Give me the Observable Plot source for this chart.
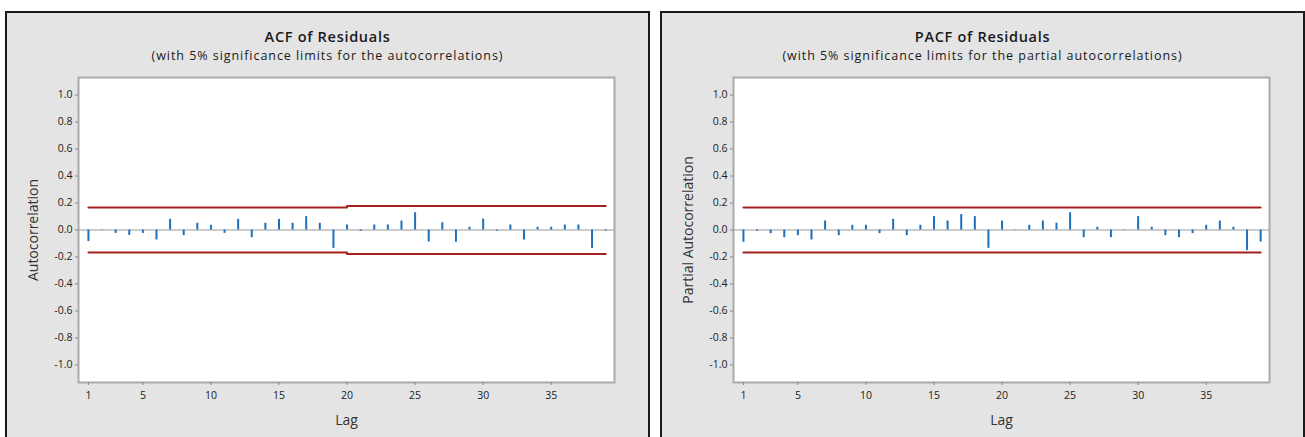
<!DOCTYPE html>
<html>
<head>
<meta charset="utf-8">
<script src="https://cdn.jsdelivr.net/npm/d3@7"></script>
<script src="https://cdn.jsdelivr.net/npm/@observablehq/plot@0.6"></script>
<style>
  html, body { margin: 0; padding: 0; background: #ffffff; }
  body { width: 1305px; height: 437px; position: relative; overflow: hidden; font-family: "Open Sans", sans-serif; }
  .panel { position: absolute; top: 11px; width: 641px; height: 430px; background: #e4e4e4;
           border-top: 2px solid #1a1a1a; border-left: 2px solid #1a1a1a; border-right: 2px solid #1a1a1a; }
  .title { position: absolute; left: 0; width: 100%; text-align: center; color: #1a1a1a; white-space: nowrap; }
  .t1 { top: 15.6px; font-size: 14.5px; font-weight: 600; line-height: 16px; height: 16px; letter-spacing: 0.7px; }
  .t2 { top: 36.4px; font-size: 12.5px; line-height: 13px; height: 13px; letter-spacing: 0.95px; }
  .chart { position: absolute; left: 0; top: 53px; }
</style>
</head>
<body>
<div class="panel" id="p1" style="left:5px;">
  <div class="title t1">ACF of Residuals</div>
  <div class="title t2">(with 5% significance limits for the autocorrelations)</div>
  <div class="chart" id="c1"></div>
</div>
<div class="panel" id="p2" style="left:660px;">
  <div class="title t1">PACF of Residuals</div>
  <div class="title t2">(with 5% significance limits for the partial autocorrelations)</div>
  <div class="chart" id="c2"></div>
</div>
<script>
const lags = [1,2,3,4,5,6,7,8,9,10,11,12,13,14,15,16,17,18,19,20,21,22,23,24,25,26,27,28,29,30,31,32,33,34,35,36,37,38,39];

const acf = [-0.086,-0.003,-0.025,-0.040,-0.025,-0.074,0.079,-0.042,0.050,0.035,
             -0.025,0.079,-0.057,0.050,0.079,0.050,0.099,0.050,-0.136,0.037,
             -0.010,0.037,0.037,0.067,0.128,-0.089,0.054,-0.091,0.020,0.081,
             -0.008,0.037,-0.074,0.020,0.020,0.037,0.037,-0.136,-0.008];

const pacf = [-0.091,-0.010,-0.027,-0.057,-0.042,-0.074,0.067,-0.042,0.035,0.035,
              -0.027,0.079,-0.042,0.035,0.099,0.067,0.114,0.099,-0.136,0.067,
              0.003,0.035,0.067,0.050,0.128,-0.057,0.020,-0.057,0.003,0.099,
              0.020,-0.042,-0.057,-0.027,0.035,0.067,0.020,-0.153,-0.089];

// 5% significance limits (upper; lower is the negative)
const acfLimit = [0.166,0.166,0.166,0.166,0.166,0.166,0.166,0.166,0.166,0.166,
                  0.166,0.166,0.166,0.166,0.166,0.166,0.166,0.166,0.166,0.177,
                  0.177,0.177,0.177,0.177,0.177,0.177,0.177,0.177,0.177,0.177,
                  0.177,0.177,0.177,0.177,0.177,0.177,0.177,0.177,0.177];
const pacfLimit = [0.166,0.166,0.166,0.166,0.166,0.166,0.166,0.166,0.166,0.166,
                   0.166,0.166,0.166,0.166,0.166,0.166,0.166,0.166,0.166,0.166,
                   0.166,0.166,0.166,0.166,0.166,0.166,0.166,0.166,0.166,0.166,
                   0.166,0.166,0.166,0.166,0.166,0.166,0.166,0.166,0.166];

const xTicks = [1,5,10,15,20,25,30,35];
const yTicks = [-1.0,-0.8,-0.6,-0.4,-0.2,0.0,0.2,0.4,0.6,0.8,1.0];

const BLUE = "#1f6fbf";
const RED = "#a3201c";

function panel(values, limits, ylab) {
  const data = lags.map((l, i) => ({lag: l, v: values[i], up: limits[i], lo: -limits[i]}));
  return Plot.plot({
    width: 641,
    height: 371,
    marginLeft: 71,
    marginRight: 34,
    marginTop: 11,
    marginBottom: 55,
    style: {background: "transparent", fontFamily: "Open Sans", fontSize: "10.5px", color: "#222"},
    x: {domain: [0.27, 39.65], label: null},
    y: {domain: [-1.13, 1.13], label: null},
    marks: [
      Plot.frame({fill: "white", stroke: "#a9a9a9", strokeWidth: 2}),
      Plot.ruleY([0], {stroke: "#9a9a9a", strokeWidth: 1.2}),
      Plot.line(data, {x: "lag", y: "up", curve: "step-after", stroke: RED, strokeWidth: 2}),
      Plot.line(data, {x: "lag", y: "lo", curve: "step-after", stroke: RED, strokeWidth: 2}),
      Plot.ruleX(data, {x: "lag", y1: 0, y2: "v", stroke: BLUE, strokeWidth: 2}),
      Plot.axisX({ticks: xTicks, tickFormat: d => String(d), tickSize: 3, tickPadding: 6, stroke: "#888", label: null}),
      Plot.axisY({ticks: yTicks, tickFormat: d => d.toFixed(1), tickSize: 3, tickPadding: 3, stroke: "#888", label: null}),
      Plot.text([ylab], {frameAnchor: "left", dx: -45, rotate: -90, textAnchor: "middle", lineAnchor: "middle", fontSize: 14, fill: "#333", style: "letter-spacing:0.4px"}),
      Plot.text(["Lag"], {frameAnchor: "bottom", dy: 38, textAnchor: "middle", lineAnchor: "middle", fontSize: 14, fill: "#333"})
    ]
  });
}

document.getElementById("c1").appendChild(panel(acf, acfLimit, "Autocorrelation"));
document.getElementById("c2").appendChild(panel(pacf, pacfLimit, "Partial Autocorrelation"));
</script>
</body>
</html>
